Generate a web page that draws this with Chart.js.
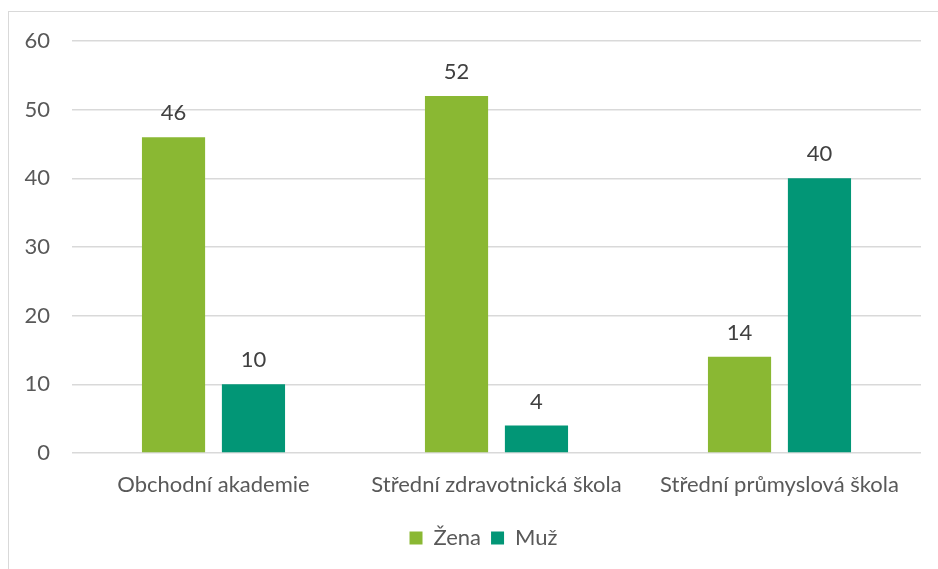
<!DOCTYPE html>
<html>
<head>
<meta charset="utf-8">
<script src="https://cdn.jsdelivr.net/npm/chart.js@4"></script>
<style>
  html, body { margin: 0; padding: 0; background: #fff; overflow: hidden; }
  #wrap { position: absolute; left: 0; top: 0; width: 938px; height: 569px; }
  #frame { position: absolute; left: 8px; top: 11px; width: 960px; height: 600px;
           border-left: 1.5px solid #D9D9D9; border-top: 1.5px solid #D9D9D9; box-sizing: border-box; }
  canvas { position: absolute; left: 0; top: 0; }
</style>
</head>
<body>
<div id="wrap">
  <div id="frame"></div>
  <canvas id="c" width="938" height="569"></canvas>
</div>
<script>
const categories = ["Obchodní akademie", "Střední zdravotnická škola", "Střední průmyslová škola"];
const zena = [46, 52, 14];
const muz = [10, 4, 40];
const seriesNames = ["Žena", "Muž"];
const yTicks = [0, 10, 20, 30, 40, 50, 60];

const FONT = "Lato, 'Open Sans', sans-serif";
const FS = 22;

const valueLabels = {
  id: 'valueLabels',
  afterDatasetsDraw(chart) {
    const ctx = chart.ctx;
    ctx.save();
    ctx.font = FS + "px " + FONT;
    ctx.fillStyle = "#404040";
    ctx.textAlign = "center";
    ctx.textBaseline = "middle";
    chart.data.datasets.forEach((ds, i) => {
      const meta = chart.getDatasetMeta(i);
      meta.data.forEach((bar, j) => {
        ctx.fillText(String(ds.data[j]), bar.x, bar.y - 24);
      });
    });
    ctx.restore();
  }
};

const legendShift = {
  id: 'legendShift',
  afterLayout(chart) {
    const l = chart.legend;
    if (l) { l.left += 23; l.right += 23; }
  }
};

new Chart(document.getElementById('c'), {
  type: 'bar',
  data: {
    labels: categories,
    datasets: [
      { label: seriesNames[0], data: zena, backgroundColor: '#8AB833' },
      { label: seriesNames[1], data: muz, backgroundColor: '#029676' }
    ]
  },
  options: {
    responsive: false,
    animation: false,
    devicePixelRatio: 1,
    layout: { padding: { left: 0, right: 17, top: 41, bottom: 10 } },
    datasets: { bar: { categoryPercentage: 0.565, barPercentage: 0.79 } },
    scales: {
      x: {
        grid: { display: false, drawTicks: false },
        border: { display: false },
        ticks: { color: '#595959', font: { family: FONT, size: FS }, padding: 19, maxRotation: 0 },
        afterFit(s) { s.height = 64; }
      },
      y: {
        min: 0, max: 60,
        afterBuildTicks(s) { s.ticks = yTicks.map(v => ({ value: v })); },
        grid: { color: '#D9D9D9', lineWidth: 1.5, drawTicks: false },
        border: { display: false },
        ticks: { color: '#595959', font: { family: FONT, size: FS }, padding: 22 },
        afterFit(s) { s.width = 72; }
      }
    },
    plugins: {
      legend: {
        position: 'bottom',
        labels: {
          color: '#595959',
          font: { family: FONT, size: FS },
          boxWidth: 13, boxHeight: 13, padding: 10
        }
      },
      tooltip: { enabled: false }
    }
  },
  plugins: [valueLabels, legendShift]
});
</script>
</body>
</html>
